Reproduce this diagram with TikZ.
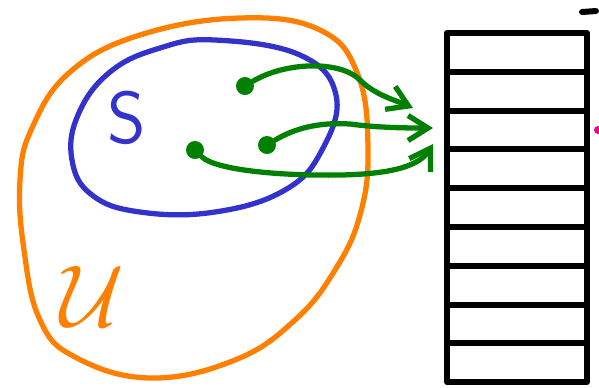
\documentclass[tikz,border=0pt]{standalone}
\usetikzlibrary{arrows.meta}

\begin{document}
\begin{tikzpicture}[x=0.02cm,y=-0.02cm,line cap=round,line join=round,every node/.style={inner sep=1pt}]
  \useasboundingbox (0,0) rectangle (599,387);
  \definecolor{uorange}{RGB}{255,128,0}
  \definecolor{sblue}{RGB}{51,51,204}
  \definecolor{hgreen}{RGB}{0,128,0}
  % universe U
  \draw[uorange,line width=3pt] plot[smooth cycle,tension=0.7] coordinates {
    (240,18) (320,30) (358,75) (368,150) (360,215) (335,270) (295,320)
    (235,360) (150,378) (75,357) (40,320) (24,250) (20,180) (32,128)
    (70,72) (140,35)};
  % set S
  \draw[sblue,line width=3pt] plot[smooth cycle,tension=0.7] coordinates {
    (215,40) (300,55) (336,95) (322,150) (285,190) (215,212) (140,212)
    (92,195) (72,160) (78,115) (110,72) (160,48)};
  \node[sblue] (S) at (127,118) {\fontsize{42}{44}\selectfont\sffamily S};
  \node[uorange,scale=5] (U) at (92,296) {$\mathcal{U}$};
  % table
  \draw[line width=3.4pt] (447,33) rectangle (587,382);
  \foreach \k in {1,...,8} {
    \draw[line width=3.4pt] (447,33+38.8*\k) -- (587,33+38.8*\k);
  }
  \draw[line width=3.4pt] (582,12) -- (596,11);
  \fill[magenta] (598,130) circle[radius=4];
  % keys and arrows
  \node[circle,fill=hgreen,minimum size=0.36cm,inner sep=0pt] (a) at (245,86) {};
  \node[circle,fill=hgreen,minimum size=0.36cm,inner sep=0pt] (b) at (267,145) {};
  \node[circle,fill=hgreen,minimum size=0.36cm,inner sep=0pt] (c) at (195,150) {};
  \coordinate (ta) at (413,108);
  \coordinate (tb) at (433,128);
  \coordinate (tc) at (433,144);
  \draw[hgreen,line width=3pt,-{Straight Barb[length=0.4cm,width=0.5cm]}]
    (a) .. controls (285,62) and (340,60) .. (360,80) .. controls (375,95) and (395,100) .. (ta);
  \draw[hgreen,line width=3pt,-{Straight Barb[length=0.4cm,width=0.5cm]}]
    (b) .. controls (295,128) and (320,122) .. (350,124) .. controls (380,128) and (410,128) .. (tb);
  \draw[hgreen,line width=3pt,-{Straight Barb[length=0.4cm,width=0.5cm]}]
    (c) .. controls (215,170) and (280,176) .. (340,175) .. controls (395,174) and (420,165) .. (tc);
\end{tikzpicture}
\end{document}
